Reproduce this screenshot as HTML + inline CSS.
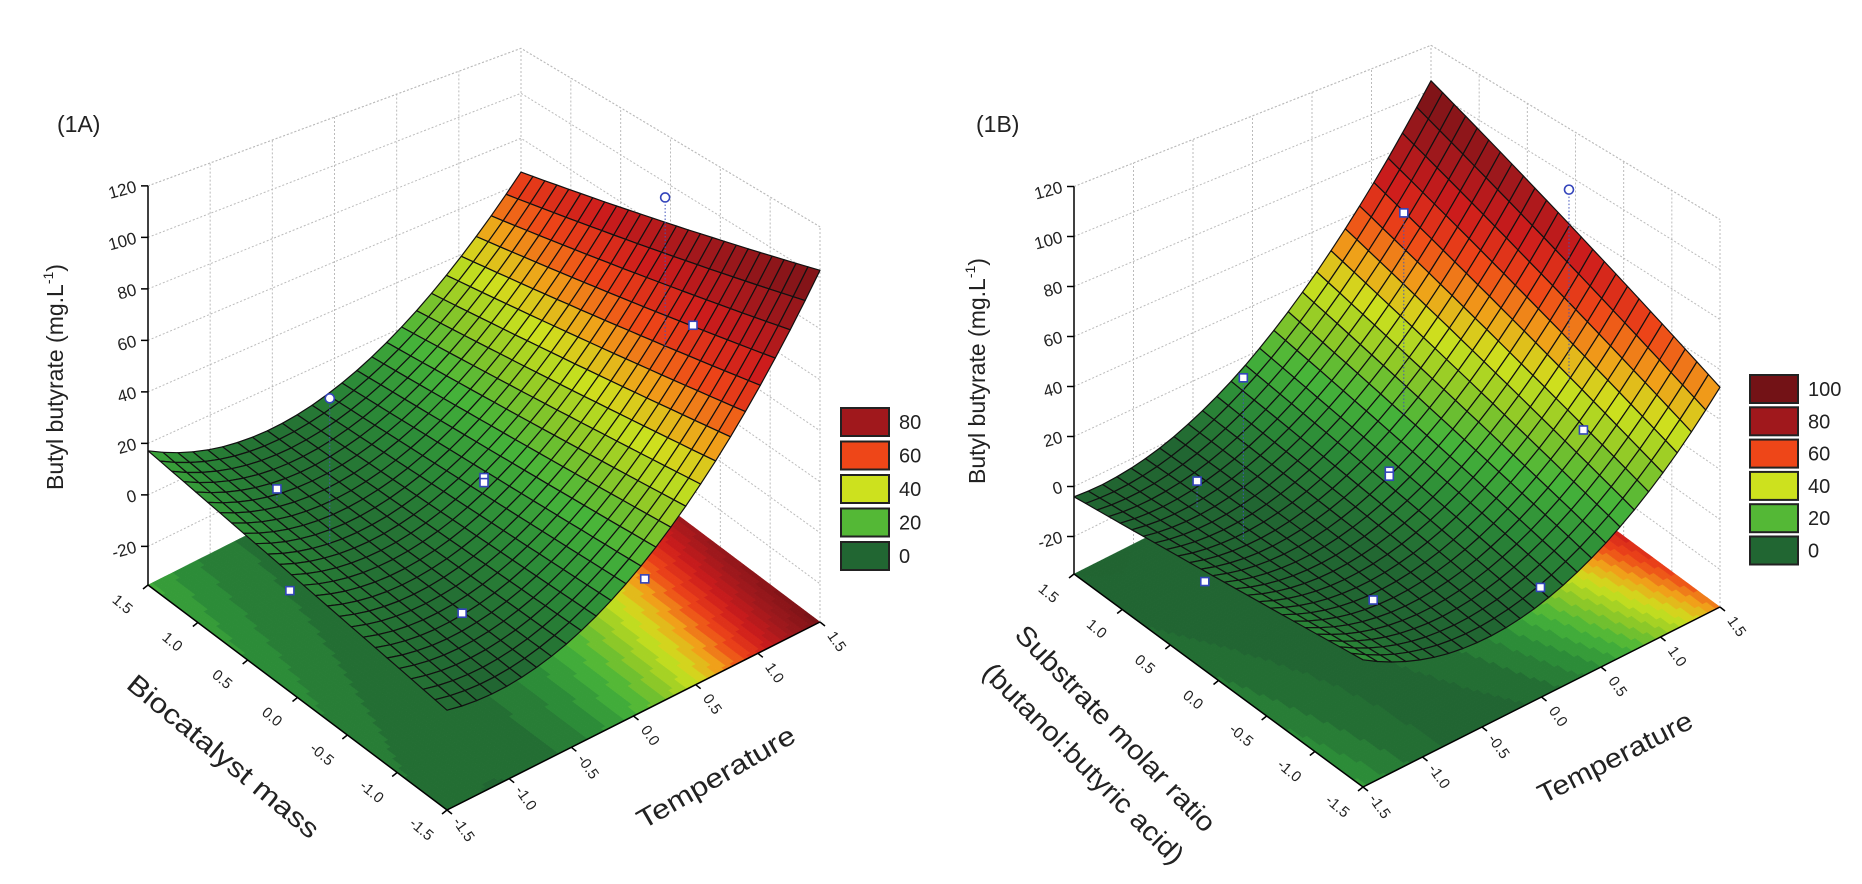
<!DOCTYPE html>
<html><head><meta charset="utf-8"><style>
html,body{margin:0;padding:0;background:#fff;}
svg{display:block;font-family:"Liberation Sans",sans-serif;}
</style></head><body>
<svg id="chart" width="1862" height="884" viewBox="0 0 1862 884" xmlns="http://www.w3.org/2000/svg">
<rect width="1862" height="884" fill="#fff"/>
<g id="panelA"></g>
<g id="panelB"></g>
</svg>
<script>
// ---- data ----
const coefA = [13, 24.8, 15, -3.8, -5.9];   // a + b t + c t^2 + d m + e t m
const coefB = [10, 24.7, 14, 5.7, 7.6];
const zTicks = [-20, 0, 20, 40, 60, 80, 100, 120];
const floorTicks = [-1.5, -1.0, -0.5, 0.0, 0.5, 1.0, 1.5];
const floorTickLabels = ["-1.5", "-1.0", "-0.5", "0.0", "0.5", "1.0", "1.5"];
const legendA = [80, 60, 40, 20, 0];
const legendB = [100, 80, 60, 40, 20, 0];
// [temperature, other factor, response]
const pointsA = [[1.0, -0.57, 120], [1.2, -0.6, 65], [-1.0, 0.3, 60], [0, 0, 15], [0, 0, 13], [-1.0, 0.83, 10], [-1.0, 0.7, -26], [-0.2, -0.03, -33], [0.9, -0.49, -33]];
const pointsB = [[1.0, -0.55, 120], [0.3, 0.3, 104], [-1.0, 0.36, 63], [-1.0, 0.84, 9], [0, 0.08, 11], [0, 0.08, 9], [1.0, -0.7, 26], [-1.0, 0.76, -29], [-0.2, 0.0, -34], [0.72, -0.6, -34]];
const circlesA = [0, 2];
const circlesB = [0];

const NS = "http://www.w3.org/2000/svg";
function mk(tag, attrs, parent) {
  const e = document.createElementNS(NS, tag);
  for (const k in attrs) e.setAttribute(k, attrs[k]);
  if (parent) parent.appendChild(e);
  return e;
}
const stops = [[-40,[30,90,42]],[0,[33,102,50]],[10,[44,140,56]],[20,[70,180,58]],[30,[140,200,40]],[40,[205,225,30]],[50,[240,160,25]],[60,[238,70,24]],[72,[205,28,28]],[85,[160,24,28]],[105,[115,18,22]],[200,[100,15,18]]];
function col(z) {
  for (let i = 0; i < stops.length - 1; i++) {
    const [z0, c0] = stops[i], [z1, c1] = stops[i + 1];
    if (z <= z1) {
      const f = Math.max(0, (z - z0) / (z1 - z0));
      return "rgb(" + c0.map((c, j) => Math.round(c + (c1[j] - c) * f)).join(",") + ")";
    }
  }
  return "rgb(100,15,18)";
}
function surf(c, t, m) { return c[0] + c[1]*t + c[2]*t*t + c[3]*m + c[4]*t*m; }

function panel(g, cfg) {
  const {F, L, R, s, zmin, zmax} = cfg;
  function proj(t, m, z) {
    const u = (t + 1.5) / 3, v = (m + 1.5) / 3;
    const x = F[0] + u*(R[0]-F[0]) + v*(L[0]-F[0]);
    const yf = F[1] + u*(R[1]-F[1]) + v*(L[1]-F[1]);
    const sc = s[0]*(1-u)*(1-v) + s[1]*u*(1-v) + s[2]*(1-u)*v + s[3]*u*v;
    return [x, yf - (z - zmin) * sc];
  }
  const P = (p) => p.map(a => a[0].toFixed(1) + "," + a[1].toFixed(1)).join(" ");
  // walls
  const walls = mk("g", {}, g);
  
  
  floorTicks.forEach(t => {
    mk("line", {x1: proj(t,1.5,zmin)[0], y1: proj(t,1.5,zmin)[1], x2: proj(t,1.5,zmax)[0], y2: proj(t,1.5,zmax)[1], stroke:"#bbb", "stroke-dasharray":"2,2"}, walls);
    mk("line", {x1: proj(1.5,t,zmin)[0], y1: proj(1.5,t,zmin)[1], x2: proj(1.5,t,zmax)[0], y2: proj(1.5,t,zmax)[1], stroke:"#bbb", "stroke-dasharray":"2,2"}, walls);
  });
  zTicks.concat([zmax]).forEach(z => {
    const a = proj(-1.5,1.5,z), b = proj(1.5,1.5,z), c = proj(1.5,-1.5,z);
    mk("polyline", {points: P([a,b,c]), fill:"none", stroke:"#bbb", "stroke-dasharray":"2,2"}, walls);
  });
  // floor contour
  const fl = mk("g", {}, g);
  
  
  const NF = 90, st = 3 / NF;
  for (let i = 0; i < NF; i++) for (let j = 0; j < NF; j++) {
    const t = -1.5 + i*st, m = -1.5 + j*st;
    const z = surf(cfg.coef, t + st/2, m + st/2);
    const zq = Math.floor(z / 4) * 4 + 2;
    const c = col(zq);
    mk("polygon", {points: P([proj(t,m,zmin),proj(t+st,m,zmin),proj(t+st,m+st,zmin),proj(t,m+st,zmin)]), fill:c, stroke:c, "stroke-width":0.5}, fl);
  }
  // axes lines
  const ax = mk("g", {stroke:"#000", "stroke-width":1.5, fill:"none"}, g);
  
  
  mk("polyline", {points: P([proj(-1.5,1.5,zmax), proj(-1.5,1.5,zmin), proj(-1.5,-1.5,zmin), proj(1.5,-1.5,zmin)])}, ax);
  zTicks.forEach(z => {
    const p = proj(-1.5,1.5,z);
    mk("line", {x1:p[0]-7, y1:p[1], x2:p[0], y2:p[1]}, ax);
    const tx = mk("text", {x:p[0]-12, y:p[1]+6, "text-anchor":"end", "font-size":17, fill:"#222", stroke:"none", transform:`rotate(-15 ${p[0]-12} ${p[1]})`}, g);
    tx.textContent = z;
    
    
  });
  floorTicks.forEach((t, i) => {
    const pl = proj(-1.5, t, zmin);
    mk("line", {x1:pl[0], y1:pl[1], x2:pl[0]-5, y2:pl[1]+4}, ax);
    const a = mk("text", {x:pl[0]-26, y:pl[1]+24, "text-anchor":"middle", "font-size":15, fill:"#222", stroke:"none", transform:`rotate(40 ${pl[0]-26} ${pl[1]+20})`}, g);
    a.textContent = floorTickLabels[i];
    
    
    const pr = proj(t, -1.5, zmin);
    mk("line", {x1:pr[0], y1:pr[1], x2:pr[0]+5, y2:pr[1]+4}, ax);
    const b = mk("text", {x:pr[0]+16, y:pr[1]+24, "text-anchor":"middle", "font-size":15, fill:"#222", stroke:"none", transform:`rotate(55 ${pr[0]+16} ${pr[1]+20})`}, g);
    b.textContent = floorTickLabels[i];
    
    
  });
  // surface
  const sf = mk("g", {}, g);
  
  
  const N = 25, d = 3 / N, cells = [];
  for (let i = 0; i < N; i++) for (let j = 0; j < N; j++) cells.push([i, j]);
  cells.sort((a, b) => (b[0] + b[1]) - (a[0] + a[1]));
  cells.forEach(([i, j]) => {
    const t = -1.5 + i*d, m = -1.5 + j*d;
    const q = [[t,m],[t+d,m],[t+d,m+d],[t,m+d]].map(([a,b]) => proj(a,b,surf(cfg.coef,a,b)));
    mk("polygon", {points:P(q), fill:col(surf(cfg.coef,t+d/2,m+d/2)), stroke:"#111", "stroke-width":1.2, "stroke-linejoin":"round"}, sf);
  });
  // points
  cfg.pts.forEach(([t, m, z], k) => {
    const p = proj(t, m, z), q = proj(t, m, Math.max(zmin, Math.min(z, surf(cfg.coef, t, m))));
    const ln = mk("line", {x1:p[0], y1:p[1], x2:q[0], y2:q[1], stroke:"#4455bb", "stroke-dasharray":"1.5,2"}, g);
    
    
    let r;
    if (cfg.circles.includes(k)) r = mk("circle", {cx:p[0], cy:p[1], r:4.5, fill:"#fff", stroke:"#3344bb", "stroke-width":1.6}, g);
    else r = mk("rect", {x:p[0]-4, y:p[1]-4, width:8, height:8, fill:"#fff", stroke:"#3344bb", "stroke-width":1.6}, g);
    
    
  });
  // legend
  const lg = mk("g", {}, g);
  
  
  cfg.legend.forEach((v, k) => {
    const y = cfg.legY + k * cfg.legPitch;
    const r = mk("rect", {x:cfg.legX, y:y, width:48, height:28, fill:col(v === 0 ? 0 : v === 20 ? 22 : v === 40 ? 40 : v === 60 ? 60 : v === 80 ? 85 : 105), stroke:"#222", "stroke-width":2}, lg);
    
    
    const tx = mk("text", {x:cfg.legX + 58, y:y + 21, "font-size":20, fill:"#222"}, lg);
    tx.textContent = v;
    
    
  });
}

panel(document.getElementById("panelA"), {F:[447,810], L:[148,585], R:[820,622], s:[2.7,2.55,2.575,2.25], zmin:-35, zmax:120, coef:coefA, pts:pointsA, circles:circlesA, legend:legendA, legX:841, legY:408, legPitch:33.5});
panel(document.getElementById("panelB"), {F:[1363,787], L:[1074,574], R:[1720,607], s:[2.65,2.5,2.5,2.25], zmin:-35, zmax:120, coef:coefB, pts:pointsB, circles:circlesB, legend:legendB, legX:1750, legY:375, legPitch:32.3});
</script>
<div style="position:absolute;left:0;top:0;width:1862px;height:884px;pointer-events:none">
<svg width="1862" height="884" style="font-family:'Liberation Sans',sans-serif">
<text x="57" y="132" font-size="23" fill="#222">(1A)</text>
<text x="976" y="132" font-size="23" fill="#222">(1B)</text>
<text x="57" y="377" font-size="23" fill="#222" text-anchor="middle" dominant-baseline="middle" transform="rotate(-90 57 377)">Butyl butyrate (mg.L<tspan baseline-shift="super" font-size="14">-1</tspan>)</text>
<text x="979" y="371" font-size="23" fill="#222" text-anchor="middle" dominant-baseline="middle" transform="rotate(-90 979 371)">Butyl butyrate (mg.L<tspan baseline-shift="super" font-size="14">-1</tspan>)</text>
<text x="222" y="758" font-size="27" fill="#222" text-anchor="middle" dominant-baseline="middle" textLength="240" lengthAdjust="spacingAndGlyphs" transform="rotate(39.6 222 758)">Biocatalyst mass</text>
<text x="717" y="779" font-size="27" fill="#222" text-anchor="middle" dominant-baseline="middle" textLength="178" lengthAdjust="spacingAndGlyphs" transform="rotate(-30 717 779)">Temperature</text>
<text x="1114" y="730" font-size="27" fill="#222" text-anchor="middle" dominant-baseline="middle" textLength="275" lengthAdjust="spacingAndGlyphs" transform="rotate(46 1114 730)">Substrate molar ratio</text>
<text x="1082" y="765" font-size="27" fill="#222" text-anchor="middle" dominant-baseline="middle" textLength="272" lengthAdjust="spacingAndGlyphs" transform="rotate(45 1082 765)">(butanol:butyric acid)</text>
<text x="1616" y="759" font-size="27" fill="#222" text-anchor="middle" dominant-baseline="middle" textLength="170" lengthAdjust="spacingAndGlyphs" transform="rotate(-27 1616 759)">Temperature</text>
</svg>
</div>
</body></html>
